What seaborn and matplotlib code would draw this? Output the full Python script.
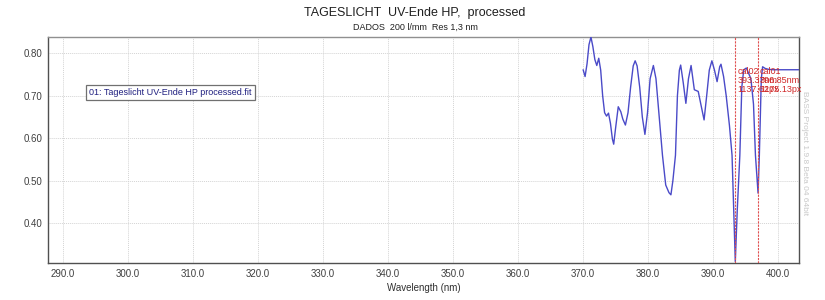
import matplotlib
matplotlib.use("Agg")
import matplotlib.pyplot as plt
import seaborn as sns
import pandas as pd

wavelength = [370.0, 370.3, 370.6, 370.9, 371.2, 371.5, 371.8, 372.1, 372.4, 372.7,
              373.0, 373.3, 373.6, 373.9, 374.2, 374.5, 374.7, 375.0, 375.4, 375.8,
              376.1, 376.5, 376.9, 377.3, 377.7, 378.0, 378.3, 378.7, 379.1, 379.5,
              379.9, 380.3, 380.8, 381.2, 381.7, 382.2, 382.7, 383.2, 383.5, 383.8,
              384.2, 384.5, 384.8, 385.0, 385.4, 385.8, 386.2, 386.6, 387.1, 387.4,
              387.7, 388.1, 388.6, 389.0, 389.4, 389.8, 390.2, 390.6, 391.0, 391.2,
              391.6, 392.0, 392.5, 392.9, 393.4, 393.7, 394.1, 394.4, 394.7, 395.1,
              395.8, 396.2, 396.5, 396.9, 397.1, 397.4, 397.6, 398.0, 398.5, 399.2, 403.2]
intensity = [0.761, 0.745, 0.775, 0.820, 0.838, 0.815, 0.785, 0.771, 0.788, 0.760,
             0.700, 0.660, 0.652, 0.659, 0.635, 0.598, 0.586, 0.625, 0.674, 0.662,
             0.645, 0.631, 0.660, 0.720, 0.770, 0.782, 0.770, 0.720, 0.650, 0.609,
             0.660, 0.740, 0.771, 0.740, 0.650, 0.560, 0.490, 0.472, 0.467, 0.500,
             0.560, 0.700, 0.760, 0.772, 0.730, 0.682, 0.740, 0.771, 0.714, 0.712,
             0.710, 0.680, 0.643, 0.700, 0.760, 0.782, 0.760, 0.733, 0.768, 0.774,
             0.745, 0.700, 0.630, 0.560, 0.310, 0.430, 0.560, 0.720, 0.761, 0.765,
             0.740, 0.680, 0.560, 0.471, 0.560, 0.740, 0.768, 0.764, 0.762, 0.761, 0.761]

cal_names = ["cal02", "cal01"]
cal_nm = [393.37, 396.85]
cal_px = ["1137.62px", "1175.13px"]

x_ticks = [290, 300, 310, 320, 330, 340, 350, 360, 370, 380, 390, 400]
y_ticks = [0.40, 0.50, 0.60, 0.70, 0.80]

sns.set_theme(style="white")
plt.rcParams['font.family'] = ['Liberation Sans', 'DejaVu Sans']

fig = plt.figure(figsize=(8.25, 3.0), dpi=100)
ax = fig.add_axes([0.0582, 0.1233, 0.9103, 0.7534])

df = pd.DataFrame({"Wavelength": wavelength, "Intensity": intensity})
sns.lineplot(data=df, x="Wavelength", y="Intensity", ax=ax, color="#4a4ac8",
             linewidth=1.0, sort=False, estimator=None, zorder=3)

ax.set_xlim(287.7, 403.2)
ax.set_ylim(0.3066, 0.838)
ax.set_xticks(x_ticks)
ax.set_xticklabels([f"{v:.1f}" for v in x_ticks])
ax.set_yticks(y_ticks)
ax.set_yticklabels([f"{v:.2f}" for v in y_ticks])
ax.tick_params(axis="both", labelsize=7, colors="#404040", length=0, pad=4)
ax.grid(True, color="#d4d4d4", linestyle=(0, (1, 1)), linewidth=0.7, zorder=0)
ax.set_xlabel("Wavelength (nm)", fontsize=7, color="#303030", labelpad=3)
ax.set_ylabel("")
for side, sp in ax.spines.items():
    sp.set_visible(True)
    sp.set_linewidth(1.0)
    sp.set_color("#505050" if side in ("left", "bottom", "right") else "#909090")

for name, nm, px in zip(cal_names, cal_nm, cal_px):
    ax.axvline(nm, color="#e05050", linestyle=(0, (2, 1)), linewidth=0.8, zorder=4)
    ax.text(nm + 0.35, 0.768, f"{name}\n{nm:.2f}nm\n{px}", fontsize=6.5,
            color="#d02828", va="top", ha="left", linespacing=1.05, zorder=5)

ax.text(0.0546, 0.754, "01: Tageslicht UV-Ende HP processed.fit", transform=ax.transAxes,
        fontsize=6.5, color="#202080", va="center", ha="left",
        bbox=dict(boxstyle="square,pad=0.35", facecolor="white", edgecolor="#707070",
                  linewidth=0.9), zorder=6)

fig.text(0.975, 0.49, "BASS Project 1.9.8 Beta 04 64bit", rotation=270, fontsize=6,
         color="#c8c8c8", ha="center", va="center")
fig.text(0.503, 0.958, "TAGESLICHT  UV-Ende HP,  processed", fontsize=9,
         color="#202020", ha="center", va="center")
fig.text(0.503, 0.908, "DADOS  200 l/mm  Res 1,3 nm", fontsize=6.5,
         color="#202020", ha="center", va="center")

fig.savefig("out.png", dpi=100, facecolor="white")
